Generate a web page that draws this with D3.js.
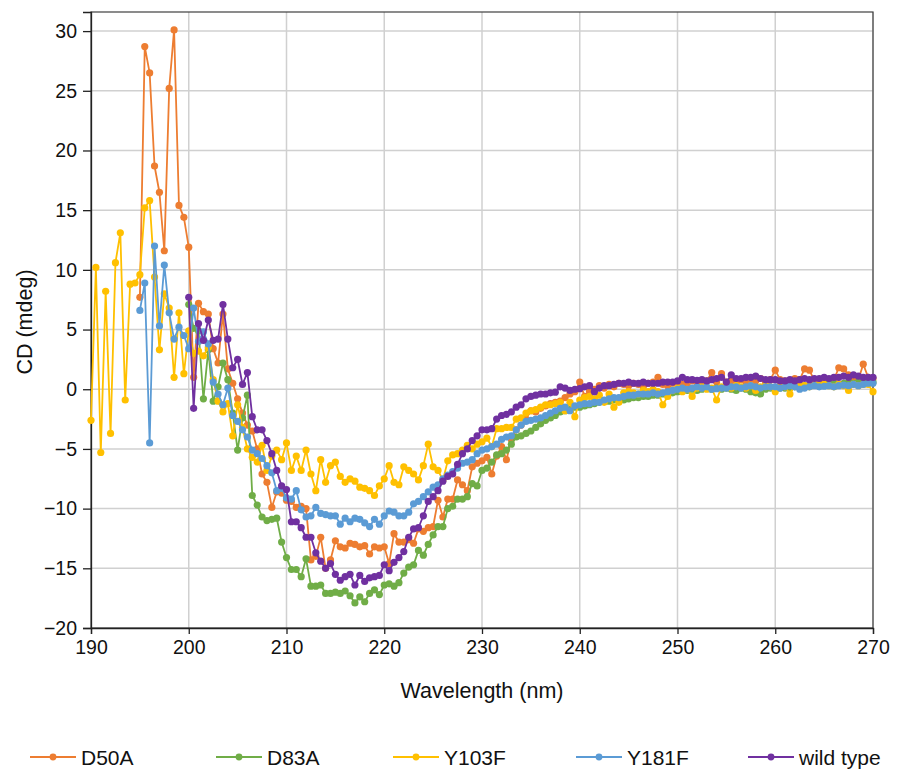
<!DOCTYPE html>
<html><head><meta charset="utf-8">
<script src="https://cdn.jsdelivr.net/npm/d3@7"></script>
<style>body{margin:0;background:#fff;} svg{display:block;font-family:"Liberation Sans",Arial,sans-serif;}</style>
</head><body><svg id="c" width="898" height="772"></svg>
<script>
const startNm = 190, stepNm = 0.5;
const seriesNames = ["D50A", "D83A", "Y103F", "Y181F", "wild type"];
const seriesColors = ["#ED7D31", "#70AD47", "#FFC000", "#5B9BD5", "#7030A0"];
const xTicks = [190, 200, 210, 220, 230, 240, 250, 260, 270];
const yTicks = [-20, -15, -10, -5, 0, 5, 10, 15, 20, 25, 30];

const d50a = [
 null,null,null,null,null,null,null,null,null,null,
 7.7,28.7,26.5,18.7,16.5,11.6,25.2,30.1,15.4,14.4,
 11.9,1.0,7.2,6.5,6.3,3.4,2.2,6.3,1.7,0.5,
 -0.8,-2.0,-3.0,-3.5,-5.0,-7.1,-7.8,-9.9,-8.6,-8.7,
 -9.3,-9.4,-9.9,-9.8,-10.0,-14.3,-14.0,-12.4,-15.0,-14.3,
 -12.7,-13.2,-13.3,-12.9,-13.0,-13.2,-13.1,-13.8,-13.2,-13.3,
 -13.2,-14.6,-12.1,-12.8,-12.8,-12.6,-12.9,-11.7,-11.9,-11.6,
 -11.5,-9.3,-10.7,-9.2,-9.2,-7.6,-8.0,-8.5,-6.5,-6.2,
 -6.0,-5.7,-7.1,-5.6,-4.8,-5.9,-4.2,-3.4,-3.0,-2.5,
 -1.8,-1.9,-1.6,-1.4,-1.2,-1.1,-1.0,-0.7,-0.4,-0.2,
 0.6,-0.6,-0.2,0.0,0.3,0.1,0.4,0.2,0.5,0.4,
 0.3,0.5,0.4,0.2,0.5,0.6,1.0,0.4,0.3,0.5,
 0.6,0.4,0.5,0.7,0.5,0.4,0.7,1.4,0.6,1.3,
 0.6,0.7,0.5,0.8,0.6,0.5,0.7,0.9,0.6,0.8,
 1.6,0.8,0.7,0.6,0.9,0.8,1.7,1.6,0.7,0.8,
 0.9,0.7,0.8,1.8,1.7,1.2,0.9,0.8,2.1,1.0,
 0.9
];
const d83a = [
 null,null,null,null,null,null,null,null,null,null,
 null,null,null,null,null,null,null,null,null,null,
 7.1,5.1,4.9,-0.8,3.3,-1.0,0.2,2.2,0.8,-2.0,
 -5.1,-2.4,-0.5,-8.9,-9.7,-10.7,-11.0,-10.9,-10.8,-12.8,
 -14.1,-15.1,-15.1,-15.7,-14.2,-16.5,-16.5,-16.4,-17.1,-17.1,
 -17.0,-17.1,-16.9,-17.3,-17.9,-17.4,-17.8,-17.1,-16.8,-17.2,
 -16.4,-16.3,-16.5,-16.2,-15.4,-14.9,-14.7,-13.5,-13.9,-13.0,
 -12.2,-11.5,-11.5,-10.0,-9.8,-9.2,-9.2,-9.0,-7.9,-8.1,
 -6.8,-6.6,-6.1,-5.5,-5.4,-5.1,-4.6,-4.0,-3.9,-3.7,
 -3.5,-3.2,-2.9,-2.6,-2.4,-2.2,-1.9,-1.8,-1.7,-1.5,
 -1.5,-1.4,-1.3,-1.2,-1.1,-1.0,-1.0,-0.9,-0.9,-0.9,
 -0.8,-0.7,-0.7,-0.6,-0.6,-0.5,-0.5,-0.4,-0.4,-0.3,
 -0.2,-0.1,-0.1,0.0,-0.1,0.0,0.1,0.0,0.1,0.0,
 0.1,0.0,-0.1,0.1,0.0,-0.2,-0.3,-0.4,0.0,0.1,
 0.0,0.1,0.1,0.1,0.2,0.2,0.3,0.3,0.4,0.3,
 0.4,0.5,0.5,0.4,0.5,0.6,0.5,0.6,0.6,0.6,
 0.6
];
const y103f = [
 -2.6,10.2,-5.3,8.2,-3.7,10.6,13.1,-0.9,8.8,8.9,
 9.6,15.2,15.8,9.4,3.3,8.0,6.8,1.0,6.4,1.3,
 4.9,3.0,3.2,2.8,3.5,0.8,-1.0,-1.9,-1.2,-3.9,
 -1.3,-3.2,-5.0,-5.7,-6.1,-4.7,-6.8,-5.6,-5.1,-5.9,
 -4.5,-6.8,-5.6,-6.8,-5.1,-7.1,-8.5,-5.9,-7.8,-6.4,
 -6.1,-7.3,-7.8,-7.5,-7.7,-8.2,-8.3,-8.5,-8.9,-8.1,
 -7.5,-6.4,-7.8,-8.0,-6.5,-6.8,-7.1,-7.6,-6.4,-4.6,
 -6.5,-6.8,-7.6,-6.0,-5.5,-5.4,-5.1,-4.7,-5.0,-4.6,
 -4.4,-4.1,-4.8,-3.3,-3.3,-3.2,-3.2,-2.5,-2.4,-2.0,
 -1.8,-1.7,-1.5,-1.3,-1.3,-1.2,-1.1,-1.8,-1.1,-2.3,
 -0.9,-0.7,-0.6,-0.8,-0.5,-1.1,-0.4,-1.5,-1.1,-0.3,
 -0.2,-0.3,-0.4,-0.1,-0.2,0.0,-0.2,-1.3,-0.6,-0.1,
 0.1,-0.2,0.0,-0.6,0.1,0.2,0.0,0.1,-0.9,0.2,
 0.2,0.1,0.3,0.2,0.1,0.3,-0.1,0.2,0.3,0.2,
 -0.2,0.3,0.2,-0.4,0.3,0.4,0.3,0.2,0.4,0.3,
 0.4,0.3,0.2,0.4,0.3,-0.1,0.4,0.3,0.4,0.4,
 -0.2
];
const y181f = [
 null,null,null,null,null,null,null,null,null,null,
 6.6,8.9,-4.5,12.0,5.3,10.4,6.4,4.2,5.2,4.5,
 3.4,6.8,4.0,4.8,3.8,0.6,-0.4,-1.3,0.1,-2.2,
 -2.7,-3.4,-4.0,-5.1,-5.4,-5.8,-6.4,-7.0,-8.5,-8.3,
 -9.1,-9.2,-8.5,-10.1,-10.7,-10.6,-9.9,-10.4,-10.5,-10.6,
 -10.6,-11.3,-10.8,-11.1,-10.8,-10.9,-11.2,-11.5,-10.9,-11.3,
 -10.6,-10.2,-10.3,-10.6,-10.6,-10.3,-9.6,-9.4,-9.0,-8.6,
 -8.2,-8.0,-7.5,-7.2,-6.9,-6.6,-6.2,-6.1,-5.9,-5.4,
 -5.1,-5.0,-4.8,-4.6,-4.2,-4.0,-3.9,-3.4,-3.0,-2.7,
 -2.6,-2.5,-2.4,-2.2,-2.0,-1.8,-1.6,-1.5,-1.8,-1.4,
 -1.3,-1.2,-1.2,-1.1,-1.1,-0.9,-0.8,-0.7,-0.7,-0.6,
 -0.5,-0.5,-0.4,-0.4,-0.4,-0.3,-0.4,-0.3,-0.2,-0.1,
 0.0,0.1,0.0,0.1,0.2,0.1,0.2,0.0,0.05,0.1,
 0.1,0.2,0.2,0.1,0.2,0.3,0.2,0.1,0.2,0.2,
 0.2,0.1,0.2,0.3,0.2,0.0,0.1,0.2,0.3,0.2,
 0.25,0.3,0.2,0.3,0.35,0.3,0.4,0.3,0.4,0.5,
 0.5
];
const wildType = [
 null,null,null,null,null,null,null,null,null,null,
 null,null,null,null,null,null,null,null,null,null,
 7.7,-1.6,5.5,4.1,5.8,4.1,4.2,7.1,4.2,1.8,
 2.5,0.4,1.4,-2.3,-3.4,-3.4,-4.3,-5.4,-6.8,-8.1,
 -8.4,-11.1,-11.1,-11.6,-12.4,-12.4,-13.7,-14.4,-15.0,-14.6,
 -15.5,-16.0,-15.7,-15.5,-16.4,-15.6,-16.1,-15.8,-15.7,-15.6,
 -14.7,-15.2,-14.5,-14.1,-13.6,-12.4,-11.7,-11.6,-10.6,-9.4,
 -9.0,-8.5,-7.7,-7.3,-7.1,-6.3,-5.4,-5.0,-4.3,-3.9,
 -3.4,-3.4,-3.3,-2.5,-2.2,-2.1,-1.9,-1.5,-1.3,-0.8,
 -0.6,-0.5,-0.4,-0.4,-0.3,-0.25,0.2,0.1,-0.1,0.0,
 0.05,0.2,0.3,-0.2,0.1,0.3,0.3,0.4,0.5,0.5,
 0.6,0.5,0.5,0.6,0.5,0.5,0.5,0.6,0.6,0.6,
 0.7,1.0,0.8,0.8,0.75,0.8,0.7,0.8,0.9,1.0,
 0.6,1.2,0.9,0.9,1.0,1.0,1.1,0.9,0.8,0.8,
 0.8,0.7,0.7,0.8,0.7,0.8,0.9,0.8,0.9,0.9,
 1.0,0.9,1.0,1.0,1.1,1.0,1.2,1.1,1.0,1.0,
 1.0
];
const seriesValues = [d50a, d83a, y103f, y181f, wildType];

const svg = d3.select("#c");
const L = 91, R = 873, T = 12, B = 628;
const x = d3.scaleLinear().domain([190, 270]).range([L, R]);
const y = d3.scaleLinear().domain([-20, 31.6]).range([B, T]);

// gridlines
const grid = svg.append("g");
grid.selectAll("line.v").data(xTicks.slice(1)).join("line")
  .attr("x1", d => x(d)).attr("x2", d => x(d)).attr("y1", T).attr("y2", B)
  .attr("stroke", "#d0d0d0").attr("stroke-width", 1.5);
grid.selectAll("line.h").data(yTicks.slice(1)).join("line")
  .attr("x1", L).attr("x2", R).attr("y1", d => y(d)).attr("y2", d => y(d))
  .attr("stroke", "#d0d0d0").attr("stroke-width", 1.5);

// border
svg.append("rect").attr("x", L).attr("y", T).attr("width", R - L).attr("height", B - T)
  .attr("fill", "none").attr("stroke", "#404040").attr("stroke-width", 1.2);

// axes
const fmt = d => d3.format("d")(d).replace("-", "\u2212");
const yAxis = svg.append("g").attr("transform", `translate(${L},0)`)
  .call(d3.axisLeft(y).tickValues(yTicks).tickSize(8).tickPadding(6).tickFormat(fmt));
const xAxis = svg.append("g").attr("transform", `translate(0,${B})`)
  .call(d3.axisBottom(x).tickValues(xTicks).tickSize(6).tickPadding(6).tickFormat(fmt));
[yAxis, xAxis].forEach(g => {
  g.select(".domain").attr("stroke", "#222").attr("stroke-width", 1.3);
  g.selectAll(".tick line").attr("stroke", "#222").attr("stroke-width", 1.3);
  g.selectAll(".tick text").attr("fill", "#111").style("font-size", "19.5px")
    .style("font-family", '"Liberation Sans", Arial, sans-serif');
});

// axis titles
svg.append("text").attr("x", (L + R) / 2).attr("y", 698).attr("text-anchor", "middle")
  .style("font-size", "21.5px").attr("fill", "#111").text("Wavelength (nm)");
svg.append("text").attr("transform", `translate(32,${(T + B) / 2 + 2}) rotate(-90)`)
  .attr("text-anchor", "middle").style("font-size", "21.5px").attr("fill", "#111").text("CD (mdeg)");

// series
const line = d3.line().defined(d => d.v != null).x(d => x(d.w)).y(d => y(d.v));
seriesValues.forEach((vals, i) => {
  const pts = vals.map((v, k) => ({ w: startNm + k * stepNm, v }));
  const g = svg.append("g");
  g.append("path").datum(pts).attr("d", line).attr("fill", "none")
    .attr("stroke", seriesColors[i]).attr("stroke-width", 1.8).attr("stroke-linejoin", "round");
  g.selectAll("circle").data(pts.filter(p => p.v != null)).join("circle")
    .attr("cx", d => x(d.w)).attr("cy", d => y(d.v)).attr("r", 3.6)
    .attr("fill", seriesColors[i]);
});

// legend
const legX = [30, 216, 393, 576, 748];
const legY = 757;
seriesNames.forEach((n, i) => {
  const g = svg.append("g").attr("transform", `translate(${legX[i]},${legY})`);
  g.append("line").attr("x1", 0).attr("x2", 46).attr("y1", 0).attr("y2", 0)
    .attr("stroke", seriesColors[i]).attr("stroke-width", 2.2);
  g.append("circle").attr("cx", 23).attr("cy", 0).attr("r", 3.4).attr("fill", seriesColors[i]);
  g.append("text").attr("x", 51).attr("y", 7.5).style("font-size", "21px").attr("fill", "#111").text(n);
});
</script>
</body></html>
